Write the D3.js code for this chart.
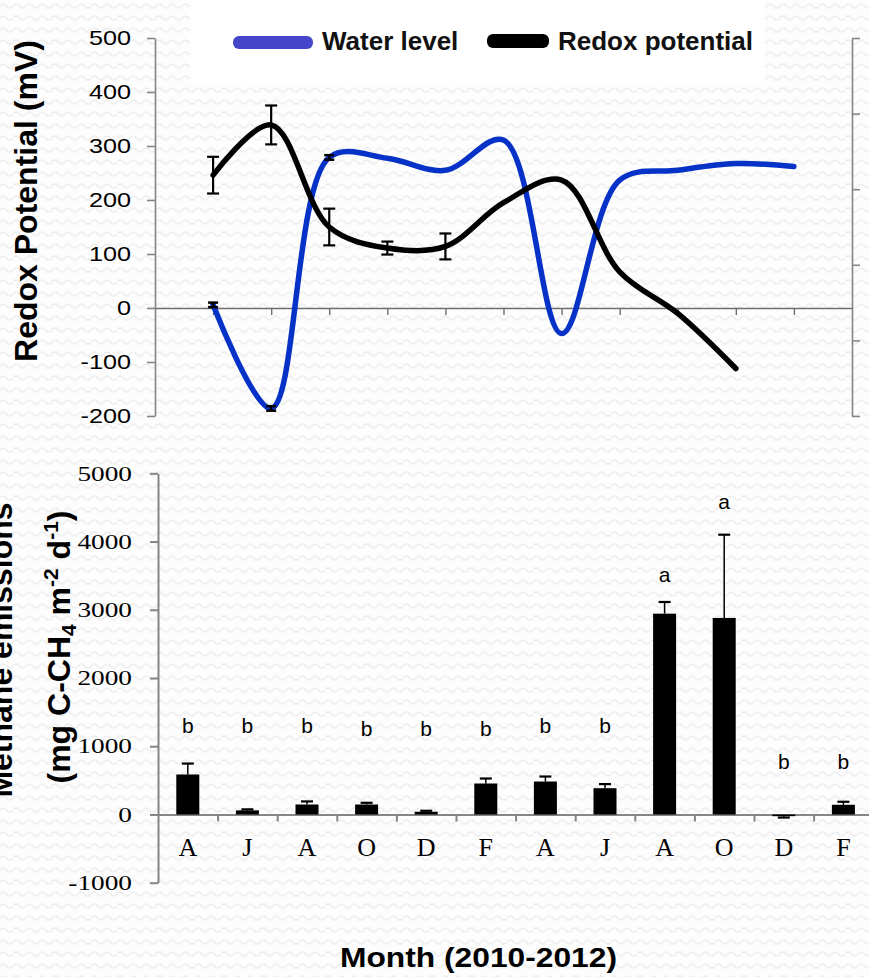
<!DOCTYPE html>
<html>
<head>
<meta charset="utf-8">
<script src="https://cdn.jsdelivr.net/npm/d3@7"></script>
<style>
  body { margin: 0; background: #fff; }
  svg { display: block; }
  .sans { font-family: "Liberation Sans", Arial, sans-serif; }
  .serif { font-family: "Liberation Serif", "DejaVu Serif", serif; }
</style>
</head>
<body>
<svg id="chart" width="869" height="977"></svg>
<script>
// ---- top panel: redox potential (left axis) and water level (right axis, unlabeled)
const redoxIdx   = [1, 2, 3, 4, 5, 6, 7, 8, 9, 10];
const redoxMean  = [246, 339, 150, 111, 114, 195, 237, 67, -10, -112];
const redoxErr   = [34, 36, 34, 12, 24, 0, 0, 0, 0, 0];
const waterIdx   = [1, 2, 3, 4, 5, 6, 7, 8, 9, 10, 11];
const waterLevel = [-15.3, -29, 4.2, 4.1, 2.5, 6.5, -19.1, 1.2, 2.5, 3.4, 3.0];
const waterErr   = [0.3, 0.3, 0.3, 0, 0, 0, 0, 0, 0, 0, 0];
const redoxTicks = [-200, -100, 0, 100, 200, 300, 400, 500];
const waterTicks = [-30, -20, -10, 0, 10, 20];
const threshold  = { value: 193, from: 0.2, to: 11.57 };
const legendItems = ["Water level", "Redox potential"];

// ---- bottom panel: methane emissions
const months      = ["A", "J", "A", "O", "D", "F", "A", "J", "A", "O", "D", "F"];
const methane     = [586, 60, 146, 146, 40, 454, 483, 385, 2943, 2880, -25, 142];
const methaneErr  = [160, 15, 45, 25, 14, 73, 73, 60, 171, 1220, 20, 44];
const groups      = ["b", "b", "b", "b", "b", "b", "b", "b", "a", "a", "b", "b"];
const groupAt     = [1190, 1190, 1190, 1150, 1150, 1150, 1190, 1190, 3400, 4470, 660, 660];
const methaneTicks = [-1000, 0, 1000, 2000, 3000, 4000, 5000];

const svg = d3.select("#chart");
const axisGray = "#858585";
const plain = d => String(d);   // hyphen minus, no thousands separator

// wavy paper background
const defs = svg.append("defs");
const pat = defs.append("pattern").attr("id", "bg")
  .attr("width", 13).attr("height", 12).attr("patternUnits", "userSpaceOnUse");
pat.append("rect").attr("width", 13).attr("height", 12).attr("fill", "#fdfdfd");
pat.append("path").attr("d", "M0 6 Q3.25 2 6.5 6 T13 6")
  .attr("fill", "none").attr("stroke", "#eeeeee").attr("stroke-width", 1.6);
defs.append("filter").attr("id", "shadow").attr("x", "-5%").attr("y", "-200%")
  .attr("width", "110%").attr("height", "600%")
  .append("feDropShadow").attr("dx", 0).attr("dy", 6).attr("stdDeviation", 2.5)
  .attr("flood-color", "#4d6578").attr("flood-opacity", 0.5);

svg.append("rect").attr("width", 869).attr("height", 977).attr("fill", "url(#bg)");

// stretch tick text a little wider, like the source rendering
function widen(sel, k) {
  sel.each(function () {
    const len = this.getComputedTextLength();
    d3.select(this).attr("textLength", len * k).attr("lengthAdjust", "spacingAndGlyphs");
  });
}

// ================= top panel =================
{
  const x  = d3.scaleLinear().domain([0, 12]).range([155, 852]);
  const y  = d3.scaleLinear().domain([-200, 500]).range([416, 38]);
  const yR = d3.scaleLinear().domain([-30, 20]).range([416, 38]);

  // legend box
  svg.append("rect").attr("x", 190).attr("y", 0).attr("width", 575).attr("height", 82).attr("fill", "#fff");

  const gl = svg.append("g").attr("class", "sans")
    .call(d3.axisLeft(y).tickValues(redoxTicks).tickSize(8).tickSizeOuter(0).tickPadding(16).tickFormat(plain))
    .attr("transform", "translate(155,0)");
  gl.selectAll("path, line").attr("stroke", axisGray).attr("stroke-width", 1.6);
  gl.selectAll("text").attr("font-size", 21).attr("fill", "#000").call(widen, 1.2);

  const gr = svg.append("g").attr("transform", "translate(852,0)")
    .call(d3.axisRight(yR).tickValues(waterTicks).tickSize(8).tickSizeOuter(0).tickFormat(""));
  gr.selectAll("path, line").attr("stroke", axisGray).attr("stroke-width", 1.6);

  const gx = svg.append("g").attr("transform", `translate(0,${y(0)})`)
    .call(d3.axisBottom(x).tickValues(d3.range(1, 12)).tickSize(7).tickSizeOuter(0).tickFormat(""));
  gx.selectAll("path, line").attr("stroke", "#6f6f6f").attr("stroke-width", 1.4);

  // threshold line
  svg.append("line")
    .attr("x1", x(threshold.from)).attr("x2", x(threshold.to))
    .attr("y1", y(threshold.value)).attr("y2", y(threshold.value))
    .attr("stroke", "#ff0000").attr("stroke-width", 4.5).attr("filter", "url(#shadow)");

  const curve = d3.curveCatmullRom.alpha(0.5);

  // water level
  svg.append("path")
    .datum(waterIdx.map((d, i) => [d, waterLevel[i]]))
    .attr("fill", "none").attr("stroke", "#0632c8").attr("stroke-width", 5.5)
    .attr("stroke-linecap", "round")
    .attr("d", d3.line().x(d => x(d[0])).y(d => yR(d[1])).curve(curve));

  svg.append("g").selectAll("g")
    .data(waterIdx.map((d, i) => ({ i: d, v: waterLevel[i], e: waterErr[i] })).filter(d => d.e > 0))
    .join("g").each(function (d) {
      const g = d3.select(this), cx = x(d.i);
      g.append("line").attr("x1", cx).attr("x2", cx).attr("y1", yR(d.v - d.e)).attr("y2", yR(d.v + d.e));
      [d.v - d.e, d.v + d.e].forEach(v => g.append("line")
        .attr("x1", cx - 5).attr("x2", cx + 5).attr("y1", yR(v)).attr("y2", yR(v)));
    })
    .attr("stroke", "#000").attr("stroke-width", 2.5);

  // redox potential
  svg.append("path")
    .datum(redoxIdx.map((d, i) => [d, redoxMean[i]]))
    .attr("fill", "none").attr("stroke", "#000").attr("stroke-width", 5.5)
    .attr("stroke-linecap", "round")
    .attr("d", d3.line().x(d => x(d[0])).y(d => y(d[1])).curve(curve));

  svg.append("g").selectAll("g")
    .data(redoxIdx.map((d, i) => ({ i: d, v: redoxMean[i], e: redoxErr[i] })).filter(d => d.e > 0))
    .join("g").each(function (d) {
      const g = d3.select(this), cx = x(d.i);
      g.append("line").attr("x1", cx).attr("x2", cx).attr("y1", y(d.v - d.e)).attr("y2", y(d.v + d.e));
      [d.v - d.e, d.v + d.e].forEach(v => g.append("line")
        .attr("x1", cx - 6).attr("x2", cx + 6).attr("y1", y(v)).attr("y2", y(v)));
    })
    .attr("stroke", "#000").attr("stroke-width", 2.2);

  // legend
  const lg = svg.append("g").attr("class", "sans");
  lg.append("rect").attr("x", 233).attr("y", 36).attr("width", 80).attr("height", 13)
    .attr("rx", 6).attr("fill", "#4545c9");
  lg.append("text").attr("x", 322).attr("y", 50).attr("font-size", 26).attr("font-weight", "bold")
    .attr("fill", "#111").text(legendItems[0]);
  lg.append("rect").attr("x", 487).attr("y", 34).attr("width", 62).attr("height", 14)
    .attr("rx", 6).attr("fill", "#000");
  lg.append("text").attr("x", 558).attr("y", 50).attr("font-size", 26).attr("font-weight", "bold")
    .attr("fill", "#111").text(legendItems[1]);

  svg.append("text").attr("class", "sans")
    .attr("transform", "translate(37,201) rotate(-90)")
    .attr("text-anchor", "middle").attr("font-size", 32).attr("font-weight", "bold")
    .text("Redox Potential (mV)");
}

// ================= bottom panel =================
{
  const x = d3.scaleBand().domain(d3.range(months.length)).range([158, 873.2])
    .paddingInner(0.614).paddingOuter(0.307);
  const xl = d3.scaleLinear().domain([0, months.length]).range(x.range());
  const y = d3.scaleLinear().domain([-1000, 5000]).range([882.7, 473.3]);

  const gl = svg.append("g").attr("transform", "translate(158,0)")
    .call(d3.axisLeft(y).tickValues(methaneTicks).tickSize(8).tickSizeOuter(0).tickPadding(18).tickFormat(plain));
  gl.selectAll("path, line").attr("stroke", axisGray).attr("stroke-width", 2);
  gl.selectAll("text").attr("class", "serif").attr("font-size", 21).attr("fill", "#000").call(widen, 1.3);

  const gx = svg.append("g").attr("transform", `translate(0,${y(0)})`)
    .call(d3.axisBottom(xl).tickValues(d3.range(1, months.length + 1)).tickSize(7).tickSizeOuter(0).tickFormat(""));
  gx.selectAll("path, line").attr("stroke", axisGray).attr("stroke-width", 2);

  const gm = svg.append("g").attr("transform", `translate(0,${y(0)})`)
    .call(d3.axisBottom(x).tickSize(0).tickPadding(42).tickFormat(i => months[i]));
  gm.select(".domain").remove();
  gm.selectAll("text").attr("class", "serif").attr("dy", 0).attr("font-size", 26).attr("fill", "#000");

  const rows = months.map((m, i) => ({ i, v: methane[i], e: methaneErr[i], g: groups[i], at: groupAt[i] }));

  svg.append("g").selectAll("rect").data(rows).join("rect")
    .attr("x", d => x(d.i))
    .attr("y", d => y(Math.max(0, d.v)))
    .attr("width", x.bandwidth())
    .attr("height", d => Math.abs(y(d.v) - y(0)))
    .attr("fill", "#000");

  svg.append("g").attr("stroke", "#000").selectAll("g").data(rows).join("g").each(function (d) {
    const g = d3.select(this), cx = x(d.i) + x.bandwidth() / 2;
    const end = d.v + Math.sign(d.v) * d.e;
    g.append("line").attr("x1", cx).attr("x2", cx).attr("y1", y(d.v)).attr("y2", y(end)).attr("stroke-width", 1.5);
    g.append("line").attr("x1", cx - 6).attr("x2", cx + 6).attr("y1", y(end)).attr("y2", y(end)).attr("stroke-width", 2.2);
  });

  svg.append("g").attr("class", "sans").selectAll("text").data(rows).join("text")
    .attr("x", d => x(d.i) + x.bandwidth() / 2)
    .attr("y", d => y(d.at))
    .attr("text-anchor", "middle").attr("font-size", 21)
    .text(d => d.g);

  const yt = svg.append("g").attr("class", "sans").attr("font-size", 32).attr("font-weight", "bold")
    .attr("text-anchor", "middle");
  yt.append("text").attr("transform", "translate(12,650) rotate(-90)").text("Methane emissions");
  const t2 = yt.append("text").attr("transform", "translate(70,647) rotate(-90)");
  t2.append("tspan").text("(mg C-CH");
  t2.append("tspan").attr("font-size", 21).attr("dy", 6).text("4");
  t2.append("tspan").attr("dy", -6).text(" m");
  t2.append("tspan").attr("font-size", 21).attr("dy", -12).text("-2");
  t2.append("tspan").attr("dy", 12).text(" d");
  t2.append("tspan").attr("font-size", 21).attr("dy", -12).text("-1");
  t2.append("tspan").attr("dy", 12).text(")");

  svg.append("text").attr("class", "sans")
    .attr("x", 478.5).attr("y", 967).attr("text-anchor", "middle")
    .attr("font-size", 28).attr("font-weight", "bold")
    .attr("textLength", 277).attr("lengthAdjust", "spacingAndGlyphs")
    .text("Month (2010-2012)");
}
</script>
</body>
</html>
